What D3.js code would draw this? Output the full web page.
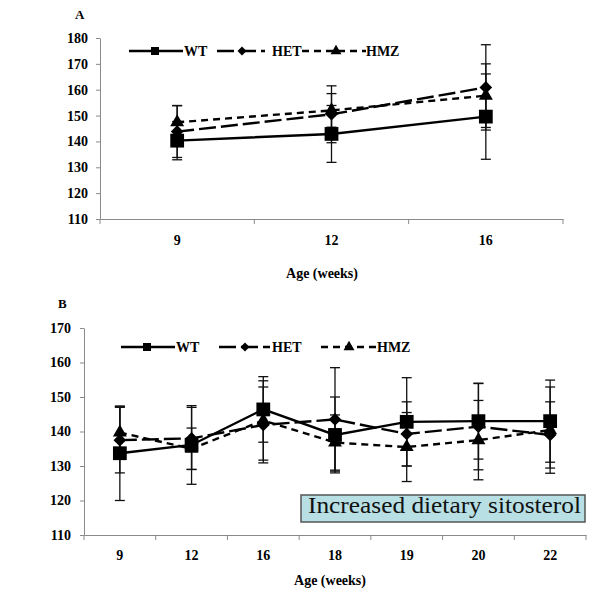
<!DOCTYPE html>
<html><head><meta charset="utf-8">
<script src="https://cdnjs.cloudflare.com/ajax/libs/d3/7.8.5/d3.min.js"></script>
<style>
body{margin:0;background:#fff}
svg{display:block}
text{font-family:"Liberation Serif","Times New Roman",serif}
</style>
</head><body>
<svg id="c" width="600" height="600"></svg>
<script>
// ---------- data ----------
const seriesNames = ["WT", "HET", "HMZ"];

const agesA = ["9", "12", "16"];
const wtA  = [140.3, 142.9, 149.6];
const hetA = [143.8, 150.5, 160.9];
const hmzA = [147.4, 152.0, 157.7];
const wtErrA  = [7.4, 11.0, 16.5];
const hetErrA = [10.0, 11.0, 16.5];
const hmzErrA = [6.5, 6.5, 12.3];
const yTicksA = [110, 120, 130, 140, 150, 160, 170, 180];

const agesB = ["9", "12", "16", "18", "19", "20", "22"];
const wtB  = [133.7, 136.1, 146.4, 139.0, 142.8, 143.0, 143.0];
const hetB = [137.5, 138.0, 141.9, 143.5, 139.3, 141.4, 139.0];
const hmzB = [139.7, 135.0, 143.2, 136.8, 135.5, 137.5, 140.4];
const wtErrB  = [13.7, 11.4, 9.5, 11.0, 12.8, 11.0, 11.9];
const hetErrB = [9.5, 9.0, 11.0, 15.0, 9.3, 12.5, 9.6];
const hmzErrB = [7.5, 6.0, 11.5, 8.0, 10.0, 11.5, 12.5];
const yTicksB = [110, 120, 130, 140, 150, 160, 170];

const xTitle = "Age (weeks)";
const boxLabel = "Increased dietary sitosterol";

// ---------- styles ----------
const dashes = {WT: null, HET: "17,5", HMZ: "7,5"};
const markerType = {WT: "square", HET: "diamond", HMZ: "triangle"};
const axisColor = "#8a8a8a";
const FONT = '"Liberation Serif","Times New Roman",serif';

const svg = d3.select("#c");

function marker(sel, type, big) {
  let path;
  if (type === "square") {
    path = d3.symbol(d3.symbolSquare, big ? 190 : 64)();
  } else if (type === "diamond") {
    path = d3.symbol(d3.symbolSquare, big ? 80 : 40)();
  } else {
    path = d3.symbol(d3.symbolTriangle, big ? 84 : 52)();
  }
  return sel.append("path").attr("d", path).attr("fill", "#000")
    .attr("transform", type === "diamond" ? "rotate(45)" : null);
}

function panel(cfg) {
  const g = svg.append("g");
  const x = d3.scaleBand().domain(cfg.ages).range([cfg.x0, cfg.x1]);
  const y = d3.scaleLinear().domain([110, cfg.yMax]).range([cfg.yB, cfg.yT]);

  // y axis
  const ya = g.append("g").attr("transform", `translate(${cfg.x0},0)`)
    .call(d3.axisLeft(y).tickValues(cfg.yTicks).tickSize(4).tickSizeOuter(0).tickPadding(cfg.yPad).tickFormat(d3.format("d")));
  ya.select(".domain").attr("stroke", axisColor);
  ya.selectAll(".tick line").attr("stroke", axisColor);
  ya.selectAll(".tick text").attr("font-family", FONT).attr("font-size", 14).attr("font-weight", "bold").attr("fill", "#000");

  // x axis (labels centered, ticks at band edges)
  const xa = g.append("g").attr("transform", `translate(0,${cfg.yB})`)
    .call(d3.axisBottom(x).tickSize(0).tickSizeOuter(0).tickPadding(cfg.xPad));
  xa.select(".domain").attr("stroke", axisColor);
  xa.selectAll(".tick text").attr("font-family", FONT).attr("font-size", 14).attr("font-weight", "bold").attr("fill", "#000");
  const edges = cfg.ages.map(a => x(a)).concat([x.range()[1]]);
  xa.selectAll(".edge").data(edges).enter().append("line")
    .attr("x1", d => d).attr("x2", d => d).attr("y1", 0).attr("y2", 5)
    .attr("stroke", axisColor);

  // axis title
  g.append("text").attr("x", cfg.titleX).attr("y", cfg.titleY)
    .attr("text-anchor", "middle").attr("font-size", 14).attr("font-weight", "bold")
    .text(xTitle);

  // panel letter
  g.append("text").attr("x", cfg.letterX).attr("y", cfg.letterY)
    .attr("font-size", 13).attr("font-weight", "bold").text(cfg.letter);

  const cx = a => x(a) + x.bandwidth() / 2;

  // error bars
  cfg.series.forEach(s => {
    s.vals.forEach((v, i) => {
      const a = cfg.ages[i], e = s.err[i];
      const eg = g.append("g").attr("stroke", "#111").attr("stroke-width", 1.3);
      eg.append("line").attr("x1", cx(a)).attr("x2", cx(a)).attr("y1", y(v - e)).attr("y2", y(v + e));
      [v - e, v + e].forEach(t => eg.append("line")
        .attr("x1", cx(a) - 5).attr("x2", cx(a) + 5).attr("y1", y(t)).attr("y2", y(t)));
    });
  });

  // lines + markers
  cfg.series.forEach(s => {
    const line = d3.line().x((d, i) => cx(cfg.ages[i])).y(d => y(d));
    g.append("path").datum(s.vals).attr("d", line).attr("fill", "none")
      .attr("stroke", "#000").attr("stroke-width", 2.4)
      .attr("stroke-dasharray", dashes[s.name]);
    s.vals.forEach((v, i) => {
      const mg = g.append("g").attr("transform", `translate(${cx(cfg.ages[i])},${y(v)})`);
      marker(mg, markerType[s.name], true);
    });
  });

  // legend
  cfg.legend.forEach(L => {
    const lg = g.append("g");
    lg.append("line").attr("x1", L.l0).attr("x2", L.l1).attr("y1", cfg.legY).attr("y2", cfg.legY)
      .attr("stroke", "#000").attr("stroke-width", 2.4).attr("stroke-dasharray", dashes[L.name]);
    const mg = lg.append("g").attr("transform", `translate(${L.m},${cfg.legY})`);
    marker(mg, markerType[L.name], false);
    lg.append("text").attr("x", L.t).attr("y", cfg.legY + 5).attr("font-size", 14).attr("font-weight", "bold")
      .text(L.name);
  });
  return {g, x, y};
}

panel({
  ages: agesA, x0: 100, x1: 563, yB: 219, yT: 38, yMax: 180, yTicks: yTicksA,
  yPad: 8, xPad: 16, titleX: 322, titleY: 278, letter: "A", letterX: 75, letterY: 19,
  series: [
    {name: "WT", vals: wtA, err: wtErrA},
    {name: "HET", vals: hetA, err: hetErrA},
    {name: "HMZ", vals: hmzA, err: hmzErrA}
  ],
  legY: 51,
  legend: [
    {name: "WT", l0: 129, l1: 183, m: 155, t: 184},
    {name: "HET", l0: 217, l1: 265, m: 242, t: 272},
    {name: "HMZ", l0: 302, l1: 366, m: 336, t: 366}
  ]
});

const pB = panel({
  ages: agesB, x0: 84, x1: 586, yB: 535, yT: 328, yMax: 170, yTicks: yTicksB,
  yPad: 9, xPad: 15, titleX: 330, titleY: 585, letter: "B", letterX: 58, letterY: 308,
  series: [
    {name: "WT", vals: wtB, err: wtErrB},
    {name: "HET", vals: hetB, err: hetErrB},
    {name: "HMZ", vals: hmzB, err: hmzErrB}
  ],
  legY: 347,
  legend: [
    {name: "WT", l0: 121, l1: 175, m: 147, t: 176},
    {name: "HET", l0: 219, l1: 270, m: 245, t: 272},
    {name: "HMZ", l0: 321, l1: 377, m: 349, t: 377}
  ]
});

// annotation box
pB.g.append("rect").attr("x", 301).attr("y", 495).attr("width", 284).attr("height", 27)
  .attr("fill", "#b7dfe4").attr("stroke", "#555").attr("stroke-width", 1.5);
pB.g.append("text").attr("x", 308).attr("y", 513).attr("font-size", 24)
  .attr("textLength", 273).attr("lengthAdjust", "spacingAndGlyphs")
  .attr("fill", "#111").text(boxLabel);
</script>
</body></html>
